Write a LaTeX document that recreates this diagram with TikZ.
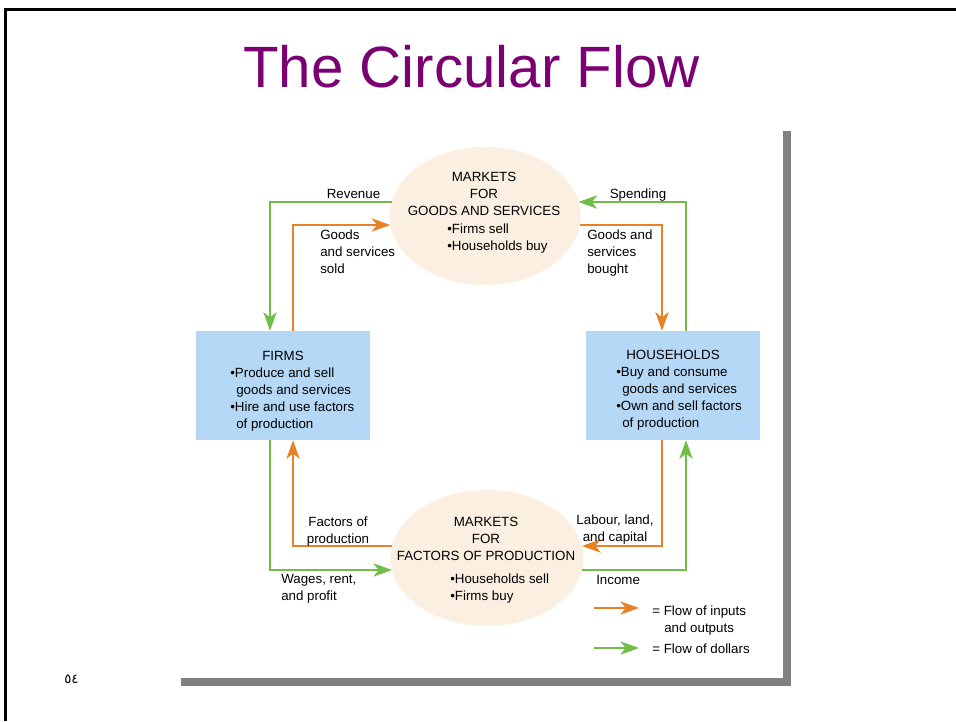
\documentclass[tikz,border=0pt]{standalone}
\usepackage{fontspec}
\setmainfont{Liberation Sans}
\newfontfamily\arabicfont[Script=Arabic]{DejaVu Sans}
\usetikzlibrary{arrows.meta,shapes.geometric}
\definecolor{ttl}{RGB}{122,0,116}
\definecolor{flowO}{RGB}{232,130,40}
\definecolor{flowG}{RGB}{112,190,70}
\definecolor{boxB}{RGB}{181,216,246}
\definecolor{ellC}{RGB}{250,239,224}
\definecolor{shad}{RGB}{128,128,128}
\begin{document}
\begin{tikzpicture}[x=0.75pt,y=-0.75pt,
  lbl/.style={inner sep=0pt, font=\fontsize{10}{12.75}\selectfont},
  sector/.style={draw=none, fill=boxB, minimum width=130.5pt, minimum height=81.75pt, inner sep=0pt},
  mkt/.style={ellipse, draw=none, fill=ellC, inner sep=0pt},
  tipstyle/.style={-{Stealth[length=14pt,width=10pt,inset=4pt]}},
  flowo/.style={draw=flowO, line width=0.9pt, tipstyle},
  flowg/.style={draw=flowG, line width=0.9pt, tipstyle}]
\useasboundingbox (0,0) rectangle (956,721);
\fill[white] (0,0) rectangle (956,721);
% frame
\draw[line width=1.9pt] (5.5,721) -- (5.5,9.5) -- (956,9.5);
% shadow of panel
\fill[shad] (783,131) rectangle (791,686);
\fill[shad] (181,678) rectangle (791,686);
% title
\node[font=\fontsize{43.7}{50}\selectfont, text=ttl, anchor=base, inner sep=0pt] (title) at (471.5,87) {The Circular Flow};
% main shapes
\node[mkt, minimum width=143.25pt, minimum height=103.5pt] (gm) at (485,216) {};
\node[mkt, minimum width=144.75pt, minimum height=102pt] (fm) at (487,558) {};
\node[sector] (firms) at (283,385.5) {};
\node[sector] (hh) at (673,385.5) {};
% contact points on ellipses
\coordinate (gmLa) at ([shift={(-93.5,-14)}]gm.center);
\coordinate (gmLb) at ([shift={(-94.7,9)}]gm.center);
\coordinate (gmRa) at ([shift={(93.5,-14)}]gm.center);
\coordinate (gmRb) at ([shift={(94.7,9)}]gm.center);
\coordinate (fmLa) at ([shift={(-95,-12)}]fm.center);
\coordinate (fmLb) at ([shift={(-95,12)}]fm.center);
\coordinate (fmRa) at ([shift={(95,-12)}]fm.center);
\coordinate (fmRb) at ([shift={(95,12)}]fm.center);
% flows
\draw[flowg] (gmLa) -| ([shift={(-13,0)}]firms.north);
\draw[flowo] ([shift={(10,0)}]firms.north) |- (gmLb);
\draw[flowg] ([shift={(13,0)}]hh.north) |- (gmRa);
\draw[flowo] (gmRb) -| ([shift={(-11,0)}]hh.north);
\draw[flowo] (fmLa) -| ([shift={(10,0)}]firms.south);
\draw[flowg] ([shift={(-13,0)}]firms.south) |- (fmLb);
\draw[flowo] ([shift={(-11,0)}]hh.south) |- (fmRa);
\draw[flowg] (fmRb) -| ([shift={(13,0)}]hh.south);
% legend
\coordinate (lo1) at (594,608);
\coordinate (lo2) at (639,608);
\coordinate (lg1) at (594,648);
\coordinate (lg2) at (639,648);
\draw[flowo] (lo1) -- (lo2);
\draw[flowg] (lg1) -- (lg2);
% texts
\node[lbl, anchor=base] (trev) at (353.5,198) {Revenue};
\node[lbl, anchor=base] (tspend) at (638,198) {Spending};
\node[lbl, anchor=north west, align=left] (tgss) at (320,229.5) {Goods\\and services\\sold};
\node[lbl, anchor=north west, align=left] (tgsb) at (587,229.5) {Goods and\\services\\bought};
\node[lbl, anchor=north, align=center] (tgm) at (484,171.5) {MARKETS\\FOR\\GOODS AND SERVICES};
\node[lbl, anchor=north west, align=left] (tgmb) at (447,223.5) {•Firms sell\\•Households buy};
\node[lbl, anchor=base] (tfirms) at (283,360) {FIRMS};
\node[lbl, anchor=north west, align=left] (tfirmsb) at (230,367.5) {•Produce and sell\\\hspace*{4.5pt}goods and services\\•Hire and use factors\\\hspace*{4.5pt}of production};
\node[lbl, anchor=base] (thh) at (673,359) {HOUSEHOLDS};
\node[lbl, anchor=north west, align=left] (thhb) at (616,366.5) {•Buy and consume\\\hspace*{4.5pt}goods and services\\•Own and sell factors\\\hspace*{4.5pt}of production};
\node[lbl, anchor=north, align=center] (tfac) at (338,516.5) {Factors of\\production};
\node[lbl, anchor=north, align=center] (tlab) at (615,514.5) {Labour, land,\\and capital};
\node[lbl, anchor=north, align=center] (tfm) at (486,516.5) {MARKETS\\FOR\\FACTORS OF PRODUCTION};
\node[lbl, anchor=north west, align=left] (tfmb) at (450,573.5) {•Households sell\\•Firms buy};
\node[lbl, anchor=north west, align=left] (twage) at (281,574.5) {Wages, rent,\\and profit};
\node[lbl, anchor=base west] (tinc) at (596,584) {Income};
\node[lbl, anchor=north west, align=left] (tlego) at (652,605.5) {= Flow of inputs\\\hspace*{9pt}and outputs};
\node[lbl, anchor=base west] (tlegg) at (652,653) {= Flow of dollars};
\node[anchor=base west, inner sep=0pt, font=\arabicfont\fontsize{10}{12}\selectfont] (pg) at (64,683) {٥٤};
\end{tikzpicture}
\end{document}
